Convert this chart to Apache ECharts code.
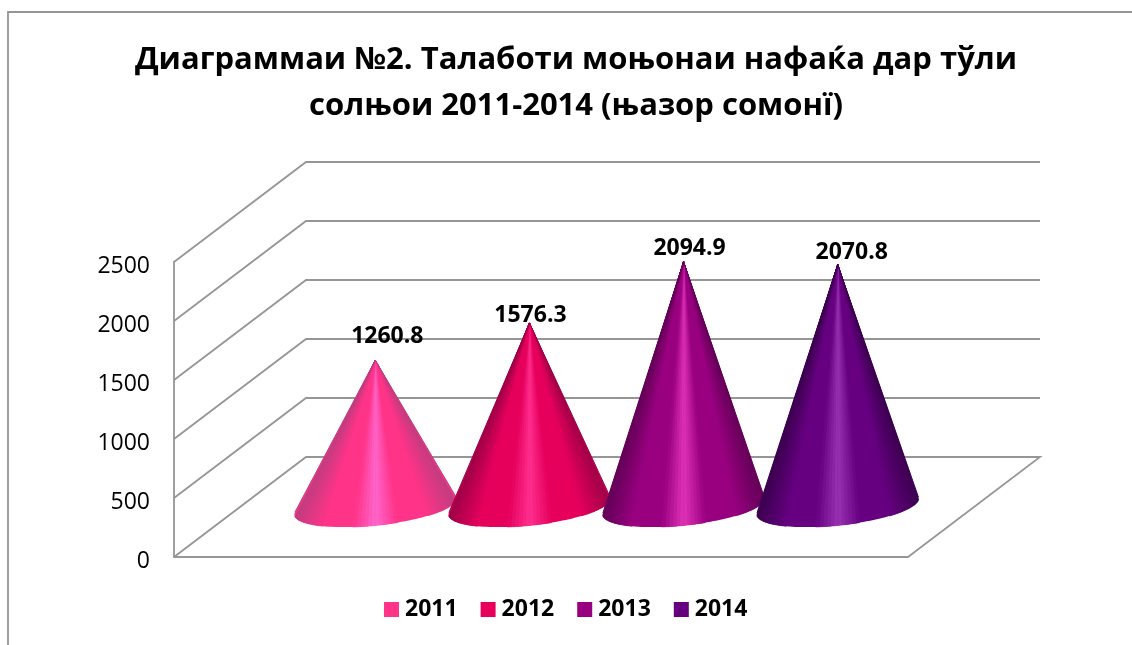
<!DOCTYPE html>
<html lang="tg">
<head>
<meta charset="UTF-8">
<title>Диаграммаи №2</title>
<style>
	html, body { margin: 0; padding: 0; background: #fff; }
	#myEcharts { width: 1132px; height: 645px; }
</style>
<script src="https://cdn.jsdelivr.net/npm/echarts@6/dist/echarts.min.js"></script>
</head>
<body>
<div id="myEcharts"></div>
<script>
	// values
	var titleText = 'Диаграммаи №2. Талаботи моњонаи нафаќа дар тўли\nсолњои 2011-2014 (њазор сомонї)';
	var years = ['2011', '2012', '2013', '2014'];
	var amounts = [1260.8, 1576.3, 2094.9, 2070.8];
	var yTicks = [0, 500, 1000, 1500, 2000, 2500];

	// cone shading: edge, body, highlight
	var edgeColors = ['#c23d80', '#a00048', '#640058', '#3c0050'];
	var bodyColors = ['#ff3388', '#e6005c', '#990080', '#660080'];
	var lightColors = ['#ff66cc', '#ff2f8f', '#e033b8', '#9933b3'];

	// hand placed labels in the original, relative to the tip
	var labelShift = [[12, -24], [1, -8], [6, -13], [14, -12]];

	var font = '"Open Sans", sans-serif';
	var gridColor = '#969696';
	var wallDepth = [132, -100];
	var coneDepth = [65.5, -48];

	function shade(i, s) {
		var d = s > 0.5 ? 1 - s : s;   // mirrored round the middle
		if (d < 0.18) return echarts.color.lerp(d / 0.18, [edgeColors[i], bodyColors[i]]);
		if (d < 0.36) return bodyColors[i];
		return echarts.color.lerp((d - 0.36) / 0.14, [bodyColors[i], lightColors[i]]);
	}

	function renderWall(params, api) {
		var sys = params.coordSys;
		var v = api.value(0);
		var y = api.coord([0, v])[1];
		var right = sys.x + sys.width;
		var line = v === 0 ?
			[[sys.x, y], [sys.x + wallDepth[0], y + wallDepth[1]], [right + wallDepth[0], y + wallDepth[1]], [right, y]] :
			[[sys.x, y], [sys.x + wallDepth[0], y + wallDepth[1]], [right + wallDepth[0], y + wallDepth[1]]];
		return {
			type: 'polyline',
			shape: { points: line },
			style: { stroke: gridColor, lineWidth: 1.8, fill: null }
		};
	}

	function makeCone(i) {
		return function (params, api) {
			var zero = api.coord([0, 0]);
			var top = api.coord([0, api.value(1)]);
			var step = api.size([1, 0])[0] * 0.21;
			var cx = zero[0] + coneDepth[0] + (i - 1.5) * step;
			var tip = [cx, top[1] + coneDepth[1]];
			var cy = zero[1] + coneDepth[1] - 2.5;
			var ux = step * 0.525, uy = -8, vy = 19;

			// tangent points of the tip on the sheared base ellipse
			var a = (tip[0] - cx) / ux;
			var b = ((tip[1] - cy) - a * uy) / vy;
			var phi = Math.atan2(b, a);
			var d = Math.acos(1 / Math.sqrt(a * a + b * b));
			var t1 = phi + d, t2 = phi - d + Math.PI * 2;

			var pts = [];
			var n = 72;
			for (var k = 0; k <= n; k++) {
				var t = t1 + (t2 - t1) * k / n;
				pts.push([cx + ux * Math.cos(t), cy + uy * Math.cos(t) + vy * Math.sin(t)]);
			}
			var xMax = pts[0][0], xMin = pts[n][0];

			// solid silhouette first so the wedge seams don't show white
			var children = [{
				type: 'polygon',
				shape: { points: [tip].concat(pts) },
				style: { fill: bodyColors[i] }
			}];
			for (var j = 0; j < n; j++) {
				var mid = (pts[j][0] + pts[j + 1][0]) / 2;
				var col = shade(i, (mid - xMin) / (xMax - xMin));
				if (col === bodyColors[i]) continue;
				children.push({
					type: 'polygon',
					shape: { points: [tip, pts[j], pts[j + 1]] },
					style: { fill: col, stroke: col, lineWidth: 0.6 }
				});
			}
			// cover the silhouette's colour along the two long edges
			children.push({
				type: 'polyline',
				shape: { points: [pts[0], tip, pts[n]] },
				style: { stroke: edgeColors[i], lineWidth: 1, fill: null }
			});
			children.push({
				type: 'text',
				z2: 100,
				style: {
					text: String(api.value(1)),
					x: cx + labelShift[i][0],
					y: tip[1] + labelShift[i][1],
					align: 'center',
					verticalAlign: 'middle',
					font: 'bold 23px ' + font,
					fill: '#000'
				}
			});
			return { type: 'group', children: children };
		};
	}

	var series = [{
		name: 'walls',
		type: 'custom',
		renderItem: renderWall,
		clip: false,
		silent: true,
		data: yTicks.map(function (v) { return [v]; }),
		encode: { y: 0 }
	}];
	years.forEach(function (year, i) {
		series.push({
			name: year,
			type: 'custom',
			renderItem: makeCone(i),
			clip: false,
			silent: true,
			itemStyle: { color: bodyColors[i] },
			data: [[0, amounts[i]]],
			encode: { x: 0, y: 1 }
		});
	});

	var myChart = echarts.init(document.getElementById('myEcharts'));
	myChart.setOption({
		animation: false,
		backgroundColor: '#fff',
		title: {
			text: titleText,
			left: 571,
			top: 32,
			textAlign: 'center',
			textStyle: { fontFamily: font, fontWeight: 'bold', fontSize: 31, lineHeight: 46, color: '#000' }
		},
		legend: {
			data: years,
			left: 384,
			top: 598,
			icon: 'rect',
			itemWidth: 15,
			itemHeight: 15,
			itemGap: 23,
			padding: 0,
			textStyle: { fontFamily: font, fontWeight: 'bold', fontSize: 23, color: '#000', padding: [0, 0, 0, 1] }
		},
		grid: { left: 174, top: 262, width: 734, height: 295 },
		xAxis: {
			type: 'category',
			data: ['1'],
			axisTick: { show: false },
			axisLabel: { show: false },
			axisLine: { lineStyle: { color: gridColor, width: 1.8 } }
		},
		yAxis: {
			type: 'value',
			min: 0,
			max: 2500,
			interval: 500,
			splitLine: { show: false },
			axisTick: { show: false },
			axisLine: { show: true, lineStyle: { color: gridColor, width: 1.8 } },
			axisLabel: {
				fontFamily: font,
				fontSize: 23,
				color: '#000',
				margin: 24,
				verticalAlign: 'top',
				lineHeight: 8,
				formatter: function (v) { return String(v); }
			}
		},
		graphic: [{
			type: 'rect',
			shape: { x: 8, y: 12, width: 1300, height: 800 },
			style: { fill: null, stroke: gridColor, lineWidth: 1.8 },
			silent: true
		}],
		series: series
	});
</script>
</body>
</html>
